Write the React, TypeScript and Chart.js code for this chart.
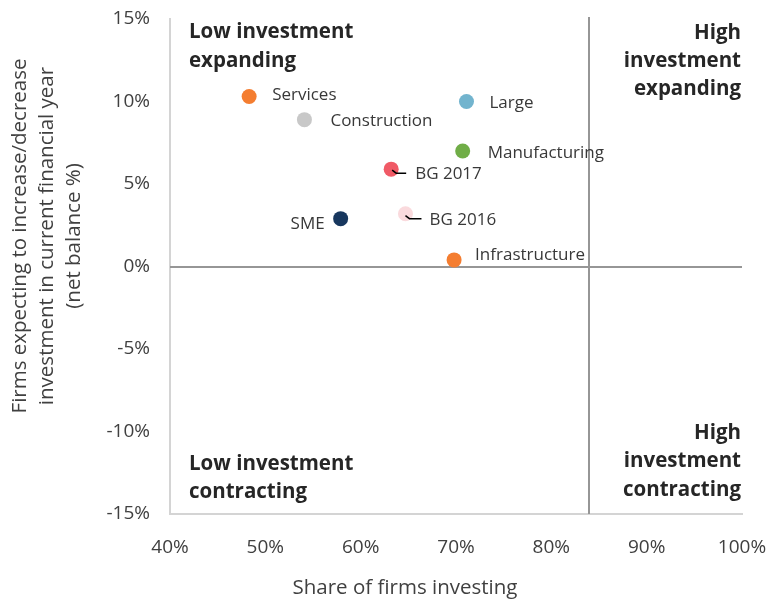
import React, { useEffect, useRef } from "react";
import { Chart, registerables } from "chart.js";

Chart.register(...registerables);

const categories = ["Services", "Construction", "Large", "Manufacturing", "BG 2017", "BG 2016", "SME", "Infrastructure"];
const shareInvesting = [48.3, 54.1, 71.1, 70.7, 63.2, 64.7, 57.9, 69.8];
const netBalance = [10.3, 8.9, 10.0, 7.0, 5.9, 3.2, 2.9, 0.4];
const pointColors = ["#F47D30", "#C8C8C8", "#72B4CE", "#70AD47", "#F05A66", "#FADADD", "#17375E", "#F47D30"];

const xTicks = [40, 50, 60, 70, 80, 90, 100];
const yTicks = [-15, -10, -5, 0, 5, 10, 15];
const xDivider = 84;
const yDivider = 0;

const xTitle = "Share of firms investing";
const yTitle = ["Firms expecting to increase/decrease", "investment in current financial year", "(net balance %)"];

// label placement (pixels relative to the point), style only
const labelPlacement = [
  { dx: 23, dy: -1, align: "left", leader: null },
  { dx: 26, dy: 2, align: "left", leader: null },
  { dx: 23, dy: 2, align: "left", leader: null },
  { dx: 25, dy: 2, align: "left", leader: null },
  { dx: 24, dy: 5, align: "left", leader: [[1, 1], [5, 4], [15, 4]] },
  { dx: 24, dy: 6, align: "left", leader: [[0, 2], [4, 5], [16, 5]] },
  { dx: -16, dy: 6, align: "right", leader: null },
  { dx: 21, dy: -5, align: "left", leader: null },
];

const FONT = "'Open Sans', 'Noto Sans', sans-serif";

const overlayPlugin = {
  id: "overlay",
  beforeDatasetsDraw(chart: any) {
    const { ctx, chartArea, scales } = chart;
    const xs = scales.x;
    const ys = scales.y;
    ctx.save();
    ctx.strokeStyle = "#969696";
    ctx.lineWidth = 2;
    const y0 = Math.round(ys.getPixelForValue(yDivider));
    ctx.beginPath();
    ctx.moveTo(chartArea.left, y0);
    ctx.lineTo(chartArea.right, y0);
    ctx.stroke();
    const x0 = Math.round(xs.getPixelForValue(xDivider));
    ctx.beginPath();
    ctx.moveTo(x0, chartArea.top - 2);
    ctx.lineTo(x0, chartArea.bottom);
    ctx.stroke();

    // quadrant labels
    ctx.fillStyle = "#262626";
    ctx.font = `bold 20.5px ${FONT}`;
    ctx.textBaseline = "middle";
    ctx.textAlign = "left";
    const lx = chartArea.left + 19;
    const rx = chartArea.right - 1;
    ["Low investment", "expanding"].forEach((t, i) => ctx.fillText(t, lx, 32 + i * 29));
    ["Low investment", "contracting"].forEach((t, i) => ctx.fillText(t, lx, 464 + i * 28));
    ctx.textAlign = "right";
    ["High", "investment", "expanding"].forEach((t, i) => ctx.fillText(t, rx, 33 + i * 28));
    ["High", "investment", "contracting"].forEach((t, i) => ctx.fillText(t, rx, 433 + i * 28.5));
    ctx.restore();
  },
  afterDatasetsDraw(chart: any) {
    const { ctx } = chart;
    const meta = chart.getDatasetMeta(0);
    ctx.save();
    ctx.font = `17px ${FONT}`;
    ctx.textBaseline = "middle";
    meta.data.forEach((el: any, i: number) => {
      const p = labelPlacement[i];
      const px = el.x;
      const py = el.y;
      if (p.leader) {
        ctx.strokeStyle = "#000000";
        ctx.lineWidth = 1.5;
        ctx.beginPath();
        p.leader.forEach((pt: number[], j: number) => {
          if (j === 0) ctx.moveTo(px + pt[0], py + pt[1]);
          else ctx.lineTo(px + pt[0], py + pt[1]);
        });
        ctx.stroke();
      }
      ctx.fillStyle = "#383838";
      ctx.textAlign = p.align;
      ctx.fillText(categories[i], px + p.dx, py + p.dy);
    });

    // axis titles
    ctx.fillStyle = "#404040";
    ctx.font = `20.5px ${FONT}`;
    ctx.textAlign = "center";
    ctx.textBaseline = "middle";
    ctx.fillText(xTitle, 405, 588);
    ctx.translate(0, 236);
    ctx.rotate(-Math.PI / 2);
    yTitle.forEach((t, i) => ctx.fillText(t, 0, 20 + i * 27));
    ctx.restore();
  },
};

const zeroPad = (s: any) => {
  s.paddingTop = 0;
  s.paddingBottom = 0;
  s.paddingLeft = 0;
  s.paddingRight = 0;
};

export default function App() {
  const ref = useRef<HTMLCanvasElement>(null);
  useEffect(() => {
    const canvas = ref.current;
    if (!canvas) return;
    const chart = new Chart(canvas, {
      type: "scatter",
      data: {
        datasets: [
          {
            label: "Firms",
            data: categories.map((_, i) => ({ x: shareInvesting[i], y: netBalance[i] })),
            pointBackgroundColor: pointColors,
            pointBorderWidth: 0,
            pointRadius: 7.5,
            pointHoverRadius: 7.5,
          },
        ],
      },
      options: {
        animation: false,
        responsive: false,
        maintainAspectRatio: false,
        layout: { padding: { top: 19, right: 26, left: 0, bottom: 0 } },
        plugins: { legend: { display: false }, tooltip: { enabled: false } },
        scales: {
          x: {
            type: "linear",
            min: xTicks[0],
            max: xTicks[xTicks.length - 1],
            afterBuildTicks: (s: any) => { s.ticks = xTicks.map((v) => ({ value: v })); },
            afterFit: (s: any) => { s.height = 88; zeroPad(s); },
            grid: { display: false, drawTicks: false },
            border: { display: true, color: "#D4D4D4", width: 2 },
            ticks: {
              padding: 22,
              color: "#404040",
              font: { family: FONT, size: 19 },
              callback: (v: any) => `${v}%`,
              maxRotation: 0,
            },
          },
          y: {
            type: "linear",
            min: yTicks[0],
            max: yTicks[yTicks.length - 1],
            afterBuildTicks: (s: any) => { s.ticks = yTicks.map((v) => ({ value: v })); },
            afterFit: (s: any) => { s.width = 170; zeroPad(s); },
            grid: { display: false, drawTicks: false },
            border: { display: true, color: "#D4D4D4", width: 2 },
            ticks: {
              padding: 20,
              color: "#404040",
              font: { family: FONT, size: 19 },
              callback: (v: any) => `${v}%`,
            },
          },
        },
      } as any,
      plugins: [overlayPlugin],
    });
    return () => chart.destroy();
  }, []);
  return (
    <div style={{ position: "absolute", left: 0, top: 0, width: 768, height: 602, background: "#fff" }}>
      <canvas ref={ref} width={768} height={602} style={{ width: 768, height: 602 }} />
    </div>
  );
}
